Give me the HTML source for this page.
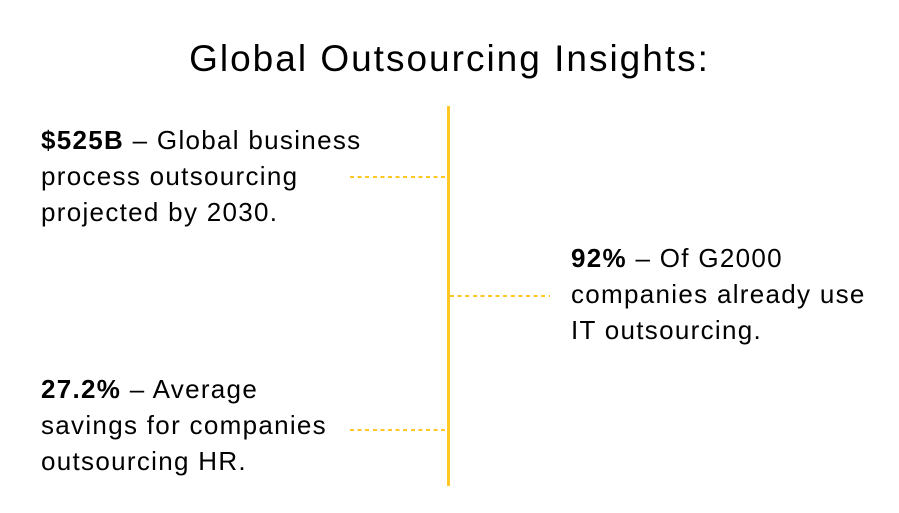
<!DOCTYPE html>
<html><head><meta charset="utf-8"><style>
body{margin:0;width:899px;height:513px;background:#fff;position:relative;overflow:hidden;font-family:"Liberation Sans",sans-serif;color:#000}
.t{position:absolute;left:0;width:899px;text-align:center;top:37px;font-size:37px;line-height:44px;letter-spacing:2px}
.b{position:absolute;font-size:26px;line-height:36px;white-space:nowrap;letter-spacing:1.3px}
.b b{font-weight:900}
.v{position:absolute;left:447px;top:106px;width:3px;height:380px;background:#ffc726}
.d{position:absolute;height:2px;background:repeating-linear-gradient(90deg,#ffc726 0 4px,transparent 4px 7.6px)}
</style></head><body>
<div class="t">Global Outsourcing Insights:</div>
<div class="v"></div>
<div class="d" style="left:350px;top:176px;width:95px"></div>
<div class="d" style="left:450px;top:295px;width:100px"></div>
<div class="d" style="left:350px;top:429px;width:95px"></div>
<div class="b" style="left:41px;top:122px"><b>$525B</b> – Global business<br>process outsourcing<br>projected by 2030.</div>
<div class="b" style="left:571px;top:240px"><b>92%</b> – Of G2000<br>companies already use<br>IT outsourcing.</div>
<div class="b" style="left:41px;top:371px"><b>27.2%</b> – Average<br>savings for companies<br>outsourcing HR.</div>
</body></html>
